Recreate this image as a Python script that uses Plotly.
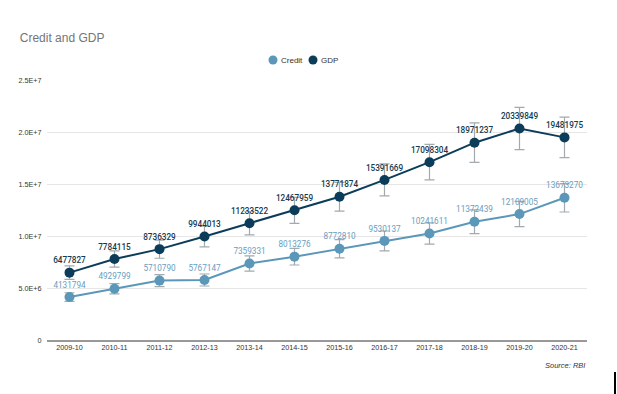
import plotly.graph_objects as go

years = ["2009-10", "2010-11", "2011-12", "2012-13", "2013-14", "2014-15",
         "2015-16", "2016-17", "2017-18", "2018-19", "2019-20", "2020-21"]
credit = [4131794, 4929799, 5710790, 5767147, 7359331, 8013276,
          8772810, 9530137, 10241611, 11372439, 12109005, 13673270]
gdp = [6477827, 7784115, 8736329, 9944013, 11233522, 12467959,
       13771874, 15391669, 17098304, 18971237, 20339849, 19481975]
series_names = ["Credit", "GDP"]
error_pct = 10
y_ticks = [0, 5e6, 1e7, 1.5e7, 2e7, 2.5e7]
y_tick_labels = ["0", "5.0E+6", "1.0E+7", "1.5E+7", "2.0E+7", "2.5E+7"]

credit_color = "#5b97b8"
gdp_color = "#0b3d5a"
err_color = "#a3a9ad"

W, H = 617, 394
L, R, T, B = 47, 30, 80, 54
PW, PH = W - L - R, H - T - B


def px(x):
    return (x - L) / PW


def py(y):
    return (H - B - y) / PH


fig = go.Figure()
for name, vals, col, tcol, tw in [(series_names[0], credit, credit_color, "#6a9dbd", 400),
                                  (series_names[1], gdp, gdp_color, "#15394f", 500)]:
    fig.add_trace(go.Scatter(
        x=years, y=vals, name=name, mode="lines+markers+text", showlegend=False,
        line=dict(color=col, width=2),
        marker=dict(color=col, size=10),
        error_y=dict(type="percent", value=error_pct, color=err_color, thickness=1.2, width=5),
        text=[str(v) for v in vals], textposition="top center",
        textfont=dict(family="Roboto", size=8.2, color=tcol, weight=tw),
        cliponaxis=False,
    ))

shapes = []
annotations = []
# legend (drawn manually for compact spacing)
for (cx, tx), name, col in zip([(273, 279), (313, 319)], series_names, [credit_color, gdp_color]):
    r = 4.5
    shapes.append(dict(type="circle", xref="paper", yref="paper",
                       x0=px(cx - r), x1=px(cx + r), y0=py(60 + r), y1=py(60 - r),
                       fillcolor=col, line=dict(width=0)))
    annotations.append(dict(text=name, xref="paper", yref="paper", x=px(tx), y=py(60),
                            xanchor="left", yanchor="middle", showarrow=False,
                            font=dict(family="Liberation Sans, Arial", size=8, color="#333")))
annotations.append(dict(text="<i>Source: RBI</i>", xref="paper", yref="paper",
                        x=1, y=py(365), xanchor="right", yanchor="middle", showarrow=False,
                        font=dict(family="Liberation Sans, Arial", size=7.5, color="#333")))
shapes.append(dict(type="line", xref="paper", yref="paper",
                   x0=px(615), x1=px(615), y0=py(372), y1=py(394),
                   line=dict(color="black", width=2)))

fig.update_layout(
    width=W, height=H,
    margin=dict(l=L, r=R, t=T, b=B),
    paper_bgcolor="white", plot_bgcolor="white",
    showlegend=False,
    title=dict(text="Credit and GDP", x=0.032, xanchor="left", y=0.905, yanchor="middle",
               font=dict(family="Liberation Sans, Arial", size=12, color="#757575")),
    xaxis=dict(type="category", range=[-0.5, 11.5], showgrid=False,
               showline=True, linecolor="#999", linewidth=1.5,
               tickfont=dict(family="Liberation Sans, Arial", size=7.2, color="#333"),
               ticks=""),
    yaxis=dict(range=[0, 2.5e7], tickvals=y_ticks, ticktext=y_tick_labels,
               showgrid=True, gridcolor="#e6e6e6", gridwidth=1, zeroline=False,
               tickfont=dict(family="Liberation Sans, Arial", size=7.2, color="#333"),
               ticks="outside", ticklen=3, tickcolor="white"),
    annotations=annotations,
    shapes=shapes,
)

fig.write_html("out.html", config={"displayModeBar": False},
               post_script="document.body.style.margin='0';")
